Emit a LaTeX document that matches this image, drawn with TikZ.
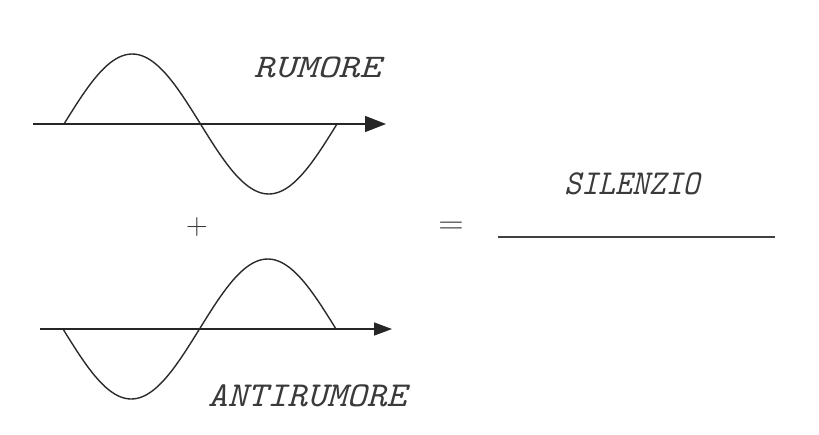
\documentclass[tikz,border=0pt]{standalone}
\usetikzlibrary{arrows.meta}
\definecolor{ink}{HTML}{2B2B2B}
\definecolor{txt}{HTML}{3A3A3A}
\tikzset{
  wave/.style={draw=ink, line width=1.4pt},
  axis/.style={draw=black!85, line width=1.5pt, -{Triangle[length=21pt,width=16pt]}},
  axisb/.style={draw=black!85, line width=1.5pt, -{Triangle[length=18pt,width=13pt]}},
  lbl/.style={inner sep=0pt, text=txt},
  sym/.style={inner sep=0pt, text=txt},
}
\begin{document}
\begin{tikzpicture}[x=1pt,y=-1pt]
\useasboundingbox[fill=white] (0,0) rectangle (819,434);
% top wave
\coordinate (ta) at (33,124);
\coordinate (tb) at (386,124);
\draw[wave] plot[domain=0:360,samples=90,smooth] ({64+\x*0.75833},{124-70*sin(\x)});
\draw[axis] (ta) -- (tb);
\node[lbl, font=\fontsize{33}{33}\ttfamily\itshape, xscale=1.22] (rum) at (317,67) {RUMORE};
% plus
\node[sym, font=\fontsize{30}{30}\selectfont] (plus) at (197,227) {+};
% bottom wave
\coordinate (ba) at (40,329);
\coordinate (bb) at (392,329);
\draw[wave] plot[domain=0:360,samples=90,smooth] ({63+\x*0.75833},{329+70*sin(\x)});
\draw[axisb] (ba) -- (bb);
\node[lbl, font=\fontsize{35}{35}\ttfamily\itshape, xscale=1.08] (anti) at (307,396) {ANTIRUMORE};
% result
\node[sym, font=\fontsize{32}{32}\selectfont, xscale=1.1] (eq) at (451,228) {=};
\node[lbl, font=\fontsize{35}{35}\ttfamily\itshape, xscale=0.92] (sil) at (632,184) {SILENZIO};
\coordinate (la) at (498,237);
\coordinate (lb) at (775,237);
\draw[draw=black!75, line width=1.6pt] (la) -- (lb);
\end{tikzpicture}
\end{document}
